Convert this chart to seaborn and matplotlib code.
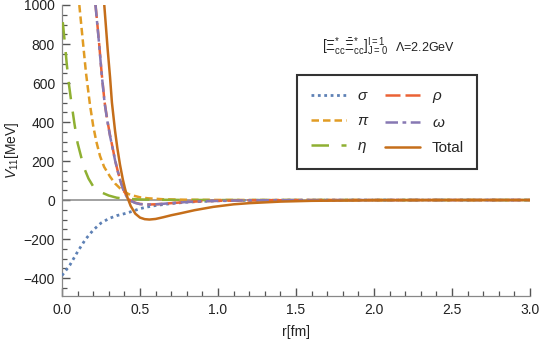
import numpy as np
import matplotlib
matplotlib.use("Agg")
import matplotlib.pyplot as plt
from matplotlib.ticker import MultipleLocator, FuncFormatter
import seaborn as sns

# values
r_sigma = [0.0, 0.05, 0.1, 0.15, 0.2, 0.25, 0.3, 0.35, 0.4, 0.45, 0.5, 0.55, 0.6, 0.7, 0.8, 0.9, 1.0, 1.2, 1.5, 2.0, 3.0]
v_sigma = [-387, -334, -265, -202, -154, -118, -95, -80, -70, -58, -44, -35, -28, -18, -11, -7, -4, -1.5, -0.5, 0, 0]

r_pi = [0.111, 0.133, 0.154, 0.179, 0.2, 0.22, 0.244, 0.27, 0.308, 0.34, 0.372, 0.4, 0.436, 0.5, 0.55, 0.65, 0.8, 1.0, 1.5, 3.0]
v_pi = [1000, 820, 650, 490, 380, 300, 225, 170, 120, 85, 60, 42, 27, 14, 9, 4, 1.5, 0.5, 0, 0]

r_eta = [0.005, 0.02, 0.03, 0.045, 0.06, 0.08, 0.1, 0.12, 0.14, 0.17, 0.2, 0.25, 0.3, 0.35, 0.4, 0.5, 0.6, 0.8, 1.0, 1.5, 3.0]
v_eta = [912, 790, 701, 590, 500, 390, 292, 230, 168, 110, 70, 40, 23, 12, 7, 3, 1.5, 0.5, 0, 0, 0]

r_rho = [0.214, 0.237, 0.254, 0.273, 0.29, 0.308, 0.325, 0.34, 0.355, 0.372, 0.39, 0.415, 0.436, 0.47, 0.5, 0.56, 0.62, 0.7, 0.8, 0.9, 1.0, 1.2, 1.5, 2.0, 3.0]
v_rho = [1010, 812, 652, 502, 412, 332, 266, 206, 156, 106, 61, 18, -2, -14, -20, -23, -21, -16, -10, -6, -4, -1.5, -0.5, 0, 0]

r_omega = [0.214, 0.237, 0.254, 0.273, 0.29, 0.308, 0.325, 0.34, 0.355, 0.372, 0.39, 0.415, 0.436, 0.47, 0.5, 0.56, 0.62, 0.7, 0.8, 0.9, 1.0, 1.2, 1.5, 2.0, 3.0]
v_omega = [1005, 808, 648, 498, 408, 328, 263, 204, 154, 104, 59, 16, -3, -15, -21, -23, -21, -16, -10, -6, -4, -1.5, -0.5, 0, 0]

r_total = [0.271, 0.293, 0.308, 0.32, 0.34, 0.355, 0.372, 0.39, 0.404, 0.42, 0.44, 0.47, 0.5, 0.53, 0.56, 0.6, 0.65, 0.7, 0.76, 0.85, 0.97, 1.1, 1.2, 1.4, 1.6, 2.0, 2.5, 3.0]
v_total = [1000, 770, 630, 500, 355, 265, 180, 105, 58, 12, -30, -70, -90, -98, -100, -97, -88, -78, -68, -52, -35, -22, -16, -8, -4, -1, 0, 0]

series = [
    (r"$\sigma$", r_sigma, v_sigma, "#5E81B5", (0, (1, 1.3)), 2.0),
    (r"$\pi$", r_pi, v_pi, "#E19C24", (0, (3, 1.6)), 1.8),
    (r"$\eta$", r_eta, v_eta, "#8FB032", (0, (7, 5)), 1.8),
    (r"$\rho$", r_rho, v_rho, "#EB6235", (0, (6, 2)), 1.8),
    (r"$\omega$", r_omega, v_omega, "#8778B3", (0, (5, 1.8, 1.5, 1.8)), 1.8),
    ("Total", r_total, v_total, "#C56E1A", "-", 1.8),
]

sns.set_style("ticks")
plt.rcParams["font.family"] = ["Liberation Sans", "DejaVu Sans"]
plt.rcParams["mathtext.fontset"] = "custom"
plt.rcParams["mathtext.rm"] = "Liberation Sans"
plt.rcParams["mathtext.it"] = "Liberation Sans:italic"
plt.rcParams["mathtext.sf"] = "Liberation Sans"
plt.rcParams["axes.unicode_minus"] = True
plt.rcParams["xtick.direction"] = "in"
plt.rcParams["ytick.direction"] = "in"

fig = plt.figure(figsize=(5.42, 3.40), dpi=100)
ax = fig.add_axes([62 / 542, 1 - 296 / 340, 468 / 542, 291 / 340])

ax.axhline(0, color="#888888", lw=1.1, zorder=1)

for label, rr, vv, col, ls, lw in series:
    sns.lineplot(x=rr, y=vv, color=col, linestyle=ls, linewidth=lw, ax=ax, label=label, zorder=3)

ax.set_xlim(0, 3.0)
ax.set_ylim(-492, 1000)

for side in ["top", "right"]:
    ax.spines[side].set_visible(False)
for side in ["left", "bottom"]:
    ax.spines[side].set_color("#888888")
    ax.spines[side].set_linewidth(0.9)

ax.xaxis.set_major_locator(MultipleLocator(0.5))
ax.xaxis.set_minor_locator(MultipleLocator(0.1))
ax.yaxis.set_major_locator(MultipleLocator(200))
ax.yaxis.set_minor_locator(MultipleLocator(50))
ax.xaxis.set_major_formatter(FuncFormatter(lambda v, p: f"{v:.1f}"))
ax.yaxis.set_major_formatter(FuncFormatter(lambda v, p: f"{int(round(v))}".replace("-", "\u2212")))
ax.tick_params(which="both", direction="in", colors="#555555", labelsize=10, labelcolor="#222222",
               bottom=True, left=True, top=False, right=False, zorder=5)
ax.tick_params(which="major", length=6, width=1.0, pad=5)
ax.tick_params(which="minor", length=3.5, width=0.9)

ax.set_xlabel("r[fm]", fontsize=10, color="#222222", labelpad=6)
ax.set_ylabel(r"$V_{11}$[MeV]", fontsize=10, color="#222222", labelpad=2)

ax.text(0.556, 0.855,
        r"$[\Xi^{*}_{\mathrm{cc}}\bar{\Xi}^{*}_{\mathrm{cc}}]^{\mathrm{I=1}}_{\mathrm{J=0}}$",
        transform=ax.transAxes, fontsize=9.8, color="#222222", ha="left", va="center")
ax.text(0.712, 0.855, r"$\Lambda$=2.2GeV",
        transform=ax.transAxes, fontsize=9, color="#222222", ha="left", va="center")

leg = ax.legend(ncol=2, loc="upper left", bbox_to_anchor=(0.502, 0.759),
                frameon=True, fancybox=False, edgecolor="black", fontsize=11,
                handlelength=2.3, handletextpad=0.75, columnspacing=1.0,
                labelspacing=0.72, borderpad=0.9, borderaxespad=0)
leg.get_frame().set_linewidth(1.5)

fig.savefig("out.png", dpi=100)
